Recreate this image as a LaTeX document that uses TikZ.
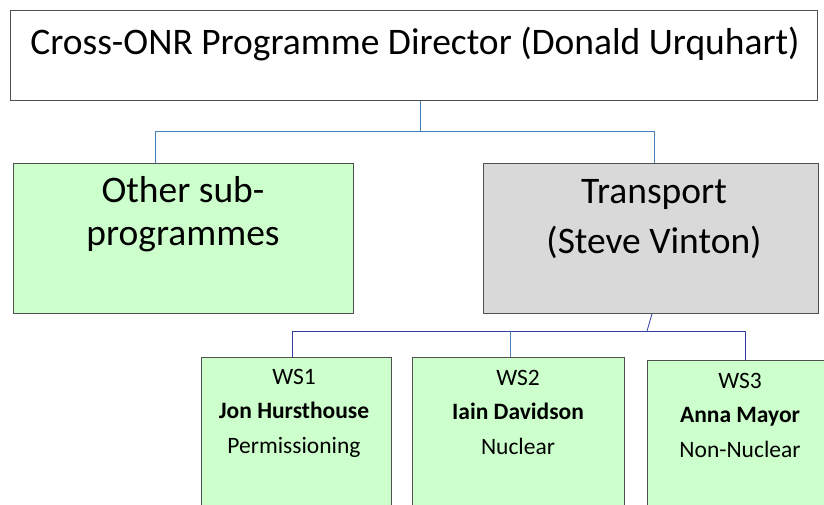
\documentclass[tikz,border=0pt]{standalone}
\usepackage{fontspec}
\setmainfont{Carlito}
\usepackage{tikz}
\definecolor{boxgreen}{RGB}{204,255,204}
\definecolor{boxgrey}{RGB}{217,217,217}
\definecolor{edgegrey}{RGB}{80,80,80}
\definecolor{toplink}{RGB}{74,126,187}
\definecolor{lowlink}{RGB}{48,60,165}

\begin{document}
\begin{tikzpicture}[x=1pt, y=-1pt,
    box/.style={draw=edgegrey, line width=0.9pt, rectangle, inner sep=0pt, anchor=north west},
    bigtext/.style={align=center, anchor=base, inner sep=0pt, font=\fontsize{37.5}{#1}\selectfont},
    wstext/.style={align=center, anchor=base, inner sep=0pt, font=\fontsize{23.5}{34.5}\selectfont},
    link/.style={draw=toplink, line width=0.8pt},
    lowlink/.style={draw=lowlink, line width=0.8pt}]
    \useasboundingbox (0,0) rectangle (824,505);
    \clip (0,0) rectangle (824,505);

    % Director
    \node[box, fill=white, minimum width=807, minimum height=90] (dir) at (10,10) {};
    \node[font=\fontsize{37.5}{44}\selectfont, anchor=base] (dirtxt) at (415,55) {Cross-ONR Programme Director (Donald Urquhart)};

    % Sub-programmes (base = last line)
    \node[box, fill=boxgreen, minimum width=340, minimum height=150] (other) at (13,163) {};
    \node[bigtext=43] (othertxt) at (183,245) {Other sub-\\programmes};
    \node[box, fill=boxgrey, minimum width=335, minimum height=150] (trans) at (483,163) {};
    \node[bigtext=50] (transtxt) at (654,253) {Transport\\(Steve Vinton)};

    % Workstreams
    \node[box, fill=boxgreen, minimum width=190, minimum height=170] (ws1) at (201,357) {};
    \node[wstext] (ws1txt) at (294,453) {WS1\\\textbf{Jon Hursthouse}\\Permissioning};
    \node[box, fill=boxgreen, minimum width=212, minimum height=170] (ws2) at (412,357) {};
    \node[wstext] (ws2txt) at (518,454) {WS2\\\textbf{Iain Davidson}\\Nuclear};
    \node[box, fill=boxgreen, minimum width=200, minimum height=170] (ws3) at (647,360) {};
    \node[wstext] (ws3txt) at (740,457) {WS3\\\textbf{Anna Mayor}\\Non-Nuclear};

    % Junctions
    \coordinate (j1) at (420,131);
    \coordinate (otherin) at (155,163);
    \coordinate (transin) at (654,163);
    \coordinate (j2) at (647,331);
    \coordinate (ws1in) at (292,357);
    \coordinate (ws2in) at (510,357);
    \coordinate (ws3in) at (745,360);

    % Connections
    \draw[link] (dir.south -| j1) -- (j1);
    \draw[link] (j1) -| (otherin);
    \draw[link] (j1) -| (transin);
    \draw[lowlink] (trans.south -| 652,0) -- (j2);
    \draw[lowlink] (j2) -| (ws1in);
    \draw[link] (ws2in |- j2) -- (ws2in);
    \draw[lowlink] (j2) -| (ws3in);
\end{tikzpicture}
\end{document}
